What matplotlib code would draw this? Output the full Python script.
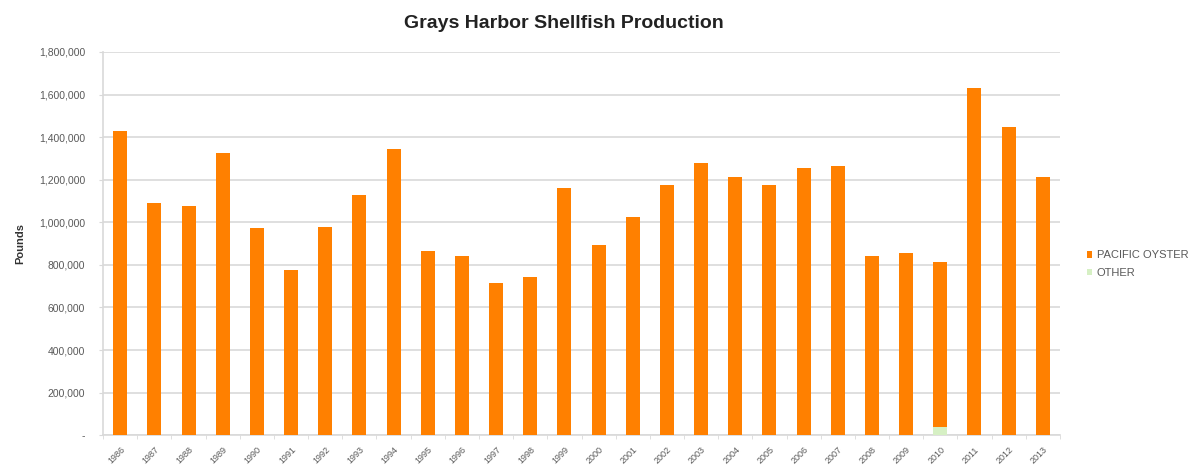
import matplotlib.pyplot as plt
import numpy as np
from matplotlib.ticker import FuncFormatter

plt.rcParams["font.family"] = ["Liberation Sans", "DejaVu Sans"]

years = [str(y) for y in range(1986, 2014)]
pacific_oyster = [1428000, 1089000, 1076000, 1324000, 973000, 775000, 979000, 1127000,
                  1343000, 866000, 841000, 715000, 741000, 1161000, 894000, 1026000,
                  1174000, 1280000, 1211000, 1174000, 1255000, 1264000, 841000, 856000,
                  775000, 1631000, 1447000, 1211000]
other = [0] * 24 + [38000, 0, 0, 0]

orange = "#FF8000"
green = "#D6F0C4"
grid_c = "#D9D9D9"
text_c = "#595959"

fig = plt.figure(figsize=(11.99, 4.72), dpi=100)
ax = fig.add_axes([0.086, 0.078, 0.798, 0.812])

x = np.arange(len(years))
ax.bar(x, other, width=0.41, color=green, label="OTHER", zorder=3)
ax.bar(x, pacific_oyster, width=0.41, bottom=other, color=orange,
       label="PACIFIC OYSTER", zorder=3)

ax.set_xlim(-0.5, len(years) - 0.5)
ax.set_ylim(0, 1800000)
ax.set_yticks(np.arange(0, 1800001, 200000))
ax.yaxis.set_major_formatter(FuncFormatter(lambda v, p: "-" if v == 0 else f"{int(v):,}"))
ax.grid(axis="y", color=grid_c, linewidth=1.2, zorder=0)

ax.set_xticks(x)
ax.set_xticklabels(years, rotation=45, ha="right", rotation_mode="anchor")
ax.set_xticks(np.arange(-0.5, len(years), 1), minor=True)
ax.tick_params(axis="x", which="major", length=0, labelsize=6.5, colors=text_c, pad=7)
ax.tick_params(axis="x", which="minor", length=3, color=grid_c)
ax.tick_params(axis="y", length=3, color=grid_c, labelsize=7.5, labelcolor=text_c, pad=10)

for s in ["top", "right"]:
    ax.spines[s].set_visible(False)
for s in ["left", "bottom"]:
    ax.spines[s].set_color(grid_c)
    ax.spines[s].set_linewidth(1.2)

ax.set_ylabel("Pounds", fontsize=8, fontweight="bold", color="#333333", labelpad=10)
fig.text(0.47, 0.95, "Grays Harbor Shellfish Production", ha="center", va="center",
         fontsize=14, fontweight="bold", color="#222222")

handles, labels = ax.get_legend_handles_labels()
leg = fig.legend(handles[::-1], labels[::-1], loc="center left", bbox_to_anchor=(0.898, 0.44),
                 frameon=False, fontsize=8, handlelength=0.5, handleheight=0.5,
                 handletextpad=0.4, labelspacing=0.7)
for t in leg.get_texts():
    t.set_color(text_c)

fig.savefig("out.png", dpi=100)
